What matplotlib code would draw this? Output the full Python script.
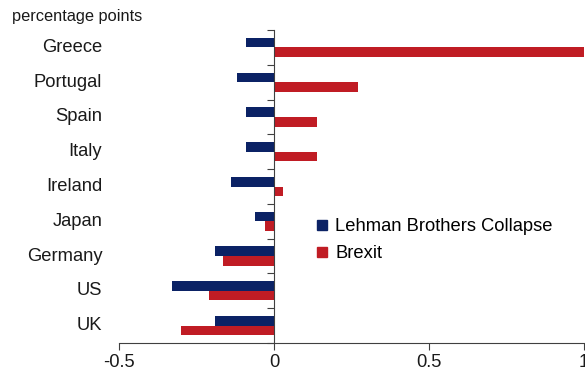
import matplotlib
matplotlib.use("Agg")
import matplotlib.pyplot as plt
from matplotlib.lines import Line2D

plt.rcParams['font.family'] = ['Liberation Sans', 'DejaVu Sans']

countries = ["Greece", "Portugal", "Spain", "Italy", "Ireland", "Japan", "Germany", "US", "UK"]
lehman = [-0.09, -0.12, -0.09, -0.09, -0.14, -0.06, -0.19, -0.33, -0.19]
brexit = [1.00, 0.27, 0.14, 0.14, 0.03, -0.03, -0.165, -0.21, -0.30]
xticks = [-0.5, 0, 0.5, 1]
xticklabels = ["-0.5", "0", "0.5", "1"]

navy = "#0b2265"
red = "#c01c24"
axis_col = "#404040"
text_col = "#1a1a1a"
fs = 13.2

fig = plt.figure(figsize=(5.85, 3.73), dpi=100)
ax = fig.add_axes([119 / 585, 30 / 373, 465 / 585, 313 / 373])

n = len(countries)
centers = [n - 0.5 - i for i in range(n)]
h = 0.275
ax.barh(centers, lehman, height=h, align='edge', color=navy, label="Lehman Brothers Collapse")
ax.barh(centers, brexit, height=-h, align='edge', color=red, label="Brexit")

ax.set_xlim(-0.5, 1.0)
ax.set_ylim(0, n)

# y axis drawn along zero, with ticks at category boundaries
for s in ["top", "right"]:
    ax.spines[s].set_visible(False)
ax.spines['left'].set_position(('data', 0))
ax.spines['left'].set_color(axis_col)
ax.spines['bottom'].set_color(axis_col)
ax.set_yticks(range(0, n + 1))
ax.set_yticklabels([])
ax.tick_params(axis='y', direction='out', length=5, color=axis_col)
ax.tick_params(axis='x', direction='out', length=5, color=axis_col, labelsize=fs,
               labelcolor=text_col, pad=3)
ax.set_xticks(xticks)
ax.set_xticklabels(xticklabels)

for c, name in zip(centers, countries):
    ax.text(-0.036, c, name, transform=ax.get_yaxis_transform(), ha='right', va='center',
            fontsize=fs, color=text_col)

fig.text(12 / 585, 1 - 16 / 373, "percentage points", ha='left', va='center', fontsize=11.8, color=text_col)

handles = [Line2D([], [], marker='s', ls='none', color=navy, markersize=7.5),
           Line2D([], [], marker='s', ls='none', color=red, markersize=7.5)]
ax.legend(handles, ["Lehman Brothers Collapse", "Brexit"], loc='upper left',
          bbox_to_anchor=(316 / 585, 1 - 218 / 373), bbox_transform=fig.transFigure,
          frameon=False, fontsize=fs, handlelength=0.7, handletextpad=0.35,
          labelspacing=0.55, borderaxespad=0, borderpad=0)

fig.savefig("out.png", dpi=100)
